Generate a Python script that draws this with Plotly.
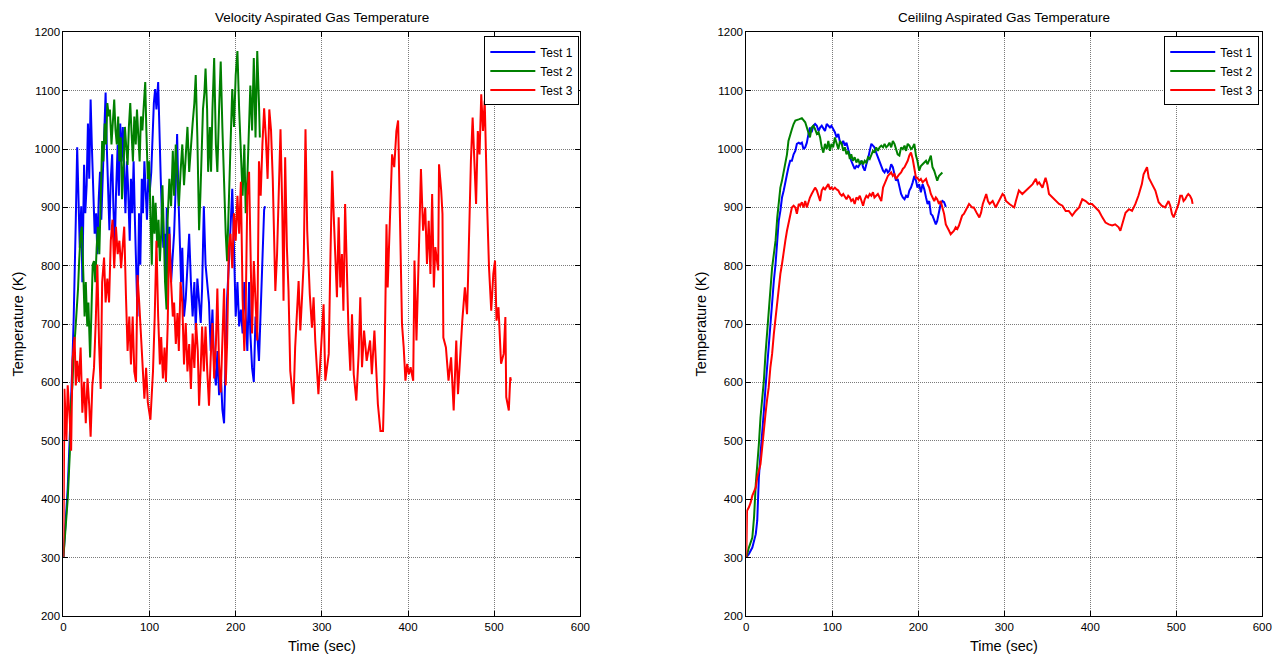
import plotly.graph_objects as go

# ---------------- Left: Velocity Aspirated Gas Temperature ----------------
vel_t1 = [0,2.4,5,7.4,9,10.5,12,13,14.4,16,17.6,19,20.7,22,24,25.4,27,28.5,30,31.6,33,35,36.3,38,39.4,41,42.5,44,45.6,47,49,50.3,52,53.4,55,56.6,58,59.7,61,63,64.4,66,67.5,69,70.6,72,73.7,75,77,78.4,80,81.5,83,84.6,86,87.8,89.3,91,92.4,94,95.6,97,99,100.2,102,103,105,106.5,108,110,111,113,114.3,116,117.4,119,120,121,123,125,127,128.5,130.4,132,133.5,135,136.6,138,140,142,144,146,148,150,152,153.6,155.5,157.5,159.4,161,163,165,167,169,171,173,175,177,178.7,180.7,182.6,184.5,186.5,188.4,190,192,194,196,198,200,202,204,206,208,210,211.6,213.5,215.5,217,219,221,223,225,227,229,231,233,234]
vel_T1 = [300,359,418,507,595,637,713,808,879,1003,902,831,902,772,973,890,938,1044,949,1085,1008,920,855,890,820,914,961,879,949,1020,1097,1008,914,861,949,991,902,831,920,1008,920,1044,979,1038,961,890,979,938,843,949,890,979,879,802,713,890,802,949,890,979,920,879,973,926,961,1008,1079,1103,1068,1115,1038,949,890,831,855,772,900,820,867,772,820,855,938,1026,920,831,772,831,713,743,808,855,772,713,772,690,778,737,702,761,902,802,772,737,654,725,625,595,654,578,619,554,530,654,743,802,867,932,831,713,772,696,725,684,772,713,654,772,684,625,601,713,684,637,731,808,896,902]

vel_t2 = [0,2.4,5,7.4,9,10.5,12,13.7,15,17,18.3,20,21.5,23,24.6,26,27.7,29,31,32.4,34,35.5,37,38.6,40,41.7,43.3,45,46.4,48,49.5,51,52.7,54,55.8,57.3,59,60.5,62,63.6,65,66.7,68,70,71.4,73,74.5,76,77.6,79,80.7,82.3,84,85.4,87,88.5,90,91.7,93,95,96.3,98,99.5,101,102.6,104,105.7,107,109,110.4,112,113.5,115,116.6,118,119.7,121,123,125,127,128.5,130.4,132,134,136,138,140,142,144,146,148,150,152,153.6,155.5,157.5,159,160.6,162,163.7,165,166.8,168,170,171.4,173,175,177,178.7,180.7,182.6,184.5,186.5,188.4,190,192,194,196,198,200,202,204,206,208,210,211.6,213.5,215.5,217,219,221,223,225,227,228]
vel_T2 = [300,347,400,477,566,595,654,684,713,761,808,855,867,772,713,772,696,737,643,713,802,808,772,831,867,820,920,1014,979,1044,1008,1079,1056,1068,1008,1056,1085,1032,1008,1056,979,1020,914,979,1038,1003,973,1038,1079,1032,979,1056,1008,1068,1020,979,1056,1032,1068,1115,1032,949,979,879,802,920,855,908,831,879,808,855,938,855,772,725,879,949,902,997,920,1008,949,902,961,1008,938,991,1038,961,1008,1044,1079,1127,1020,861,920,1008,1068,1097,1138,1068,961,1038,961,1068,1156,1008,961,1068,1150,1038,938,855,808,926,1008,1103,1038,1127,1168,1068,979,920,1008,890,949,1068,1109,1032,1156,1020,1168,1079,1020]

vel_t3 = [0,0.5,1.2,3.5,5,7.4,9,10.5,13,14.4,16,18,20,22,24,26,28,30,31.6,33.6,35.5,37.5,39.4,41.4,43.3,45,47.2,49,51,53,55,57,59,61,63,65,67,68.7,70.6,72.6,74.5,76.5,78.4,80.4,82.3,84.3,86,88,90,92,94,96,98,101,104,106,108,110,112,113.5,115.5,117.4,119,121,123,125,127,128.5,130.5,132.4,134,136,138,140,142,144,146,148,150,152,154,156,157.5,159.4,161,163,165,167,169,171,173,175,177,178.7,180.7,182.6,184.5,186.5,188.4,190,192,194,196,198,200,202,204,206,208,210,211.6,213.5,215.5,217,219,221,223,225,227,229,231,233,235,237,239,241,243,244,246,248,252,254,255.5,257.4,259.4,261.3,263.3,267,269,273,275,277,279,281,283,286,288.5,290.4,292.3,296,298,302,304,308,310,312,314,316,317.5,319.5,321.4,323.3,325,327,329,331,333,335,337,340,342.7,344.6,346.6,349,352,356,358,361,363,365,368,371,372.5,375,376.4,379,381.5,384,386.5,388.5,389.6,391,393,395,397,399,401,403,406,407.5,409.8,412.5,415,417.5,420,422,424,426,428,430,431.7,435,436,438.5,440,441,444,447,450,453,456,458,460.7,463,466,468.5,469.6,471.5,473,475,477,479,481,483,485,487,489,490.5,492,494,496.6,499,501,502.7,505,508,511,513,514,517,518.7,519.5]
vel_T3 = [300,460,589,501,595,536,483,637,678,595,637,601,660,548,601,530,607,560,507,595,625,702,802,666,589,772,814,737,778,737,843,879,796,867,820,843,796,831,867,749,654,713,631,713,619,601,784,737,678,619,572,625,566,536,619,713,843,713,631,678,607,660,601,696,855,772,713,737,666,719,654,772,737,631,702,619,666,589,684,625,702,654,560,625,696,619,696,619,560,643,702,607,666,761,631,583,684,761,595,666,831,855,796,890,843,920,855,944,743,654,725,920,961,831,684,808,731,672,979,920,1008,1070,1020,949,1068,1032,949,877,757,820,1034,900,740,986,832,757,620,563,660,774,689,746,809,1034,860,751,694,746,672,580,632,734,603,649,820,963,877,797,746,883,763,820,723,906,774,683,620,717,614,569,649,746,626,689,637,672,614,689,626,563,517,517,603,871,763,889,991,969,1031,1049,946,814,700,660,603,632,614,626,603,809,672,820,966,860,900,803,877,786,923,763,832,792,974,929,889,677,660,603,643,552,672,580,660,706,763,717,774,900,980,1054,980,906,1031,991,1094,1031,1083,969,894,797,723,786,809,706,729,632,649,712,575,552,609,603]

# ---------------- Right: Ceiling Aspirated Gas Temperature ----------------
ceil_t1 = [0,3,7,11,12.7,13.5,14.6,16.5,18.5,20.4,22.3,24,26,28,30,32,34,36,37.7,39.6,41.5,43.5,45.4,47.3,49,51,53,55,57,58.8,61,62.7,64.6,66.5,68.5,70.4,72.3,74,76,78,80,82,84,85.8,87.7,89.6,91.5,93.5,95.4,97.3,99,101,103,105,107,109,111,112.7,114.6,116.5,118.5,120.4,122,124,126,128,130,132,134,135.8,137.7,139.6,141.5,143.5,145.4,147.3,149,151,153,155,157,159,160.8,162.7,164.6,166.5,168.5,170.4,172.3,174,176,178,180,182,184,185.8,187.7,189.6,191.5,193.5,195.4,197.3,199,201,203,205,207,209,210.8,212.7,214.6,216.5,218.5,220.4,222,224,226,228,230,232]
ceil_T1 = [300,306,317,340,363,397,437,477,511,551,591,626,666,706,740,774,803,843,877,894,917,929,946,957,969,980,980,991,997,1009,1011,1009,1011,1000,1003,1011,1026,1037,1029,1040,1043,1040,1031,1037,1040,1034,1031,1043,1040,1037,1040,1034,1029,1020,1026,1011,1009,1014,1006,1011,997,989,980,974,966,971,969,974,980,969,963,974,983,997,1009,1006,1003,994,986,980,971,963,960,966,960,963,974,969,957,946,949,934,923,917,914,920,917,929,934,943,954,946,934,940,926,940,931,917,906,911,889,886,877,871,877,889,906,911,909,901]

ceil_t2 = [0,3,7,9,11,12.7,14.6,16.5,18.5,20.4,22.3,24,26,28,30,32,34,36,37.7,39.6,41.5,43.5,45.4,47.3,49,51,53,55,57,61,64.6,68.5,70.4,72.3,74,76,78,80,82,84,85.8,87.7,89.6,91.5,93.5,95.4,97.3,99,101,103,105,107,109,111,112.7,114.6,116.5,118.5,120.4,122,124,126,128,130,132,134,135.8,137.7,139.6,141.5,143.5,145.4,147.3,149,151,153,155,157,159,160.8,162.7,164.6,166.5,168.5,170.4,172.3,174,176,178,180,182,184,185.8,187.7,189.6,191.5,193.5,195.4,197.3,199,201,203,205,207,209,210.8,212.7,214.6,216.5,218.5,220.4,222,224,226,228]
ceil_T2 = [300,317,334,369,426,454,494,540,569,603,649,683,717,751,797,820,843,883,911,934,946,963,980,991,1014,1026,1034,1043,1049,1051,1053,1046,1037,1026,1020,1037,1040,1034,1026,1029,1020,1003,994,1009,1000,1014,997,1009,1003,1020,1009,1000,1014,1009,997,1003,991,997,983,991,980,986,977,983,974,980,974,980,977,986,983,991,997,994,1003,997,1003,1006,1003,1009,1003,1006,1011,1003,1014,1009,1000,991,989,1003,1000,1006,997,1009,1006,1000,1003,1009,989,980,963,971,974,977,980,974,980,989,969,963,954,946,954,957,960]

ceil_t3 = [0,0.8,3,5,7,9,11,12.7,14.6,16.5,18.5,20.4,22.3,24,26,28,30,32,34,36,37.7,39.6,41.5,43.5,45.4,47.3,49,51,53,55,57,58.8,61,62.7,64.6,66.5,68.5,70.4,72.3,74,76,78,80,82,84,85.8,87.7,89.6,91.5,93.5,95.4,97.3,99,101,103,105,107,109,111,112.7,114.6,116.5,118.5,120.4,122,124,126,128,130,132,134,135.8,137.7,139.6,141.5,143.5,145.4,147.3,149,151,153,155,157,159,160.8,162.7,164.6,166.5,168.5,170.4,172.3,174,176,178,180,182,184,185.8,187.7,189.6,191.5,193.5,195.4,197.3,199,201,203,205,207,209,210.8,212.7,214.6,216.5,218.5,220.4,222,224,226,228,230,232,234,235.8,237.7,239.6,241.5,243.5,245.4,247.3,249,251,253,255,257,259,260.8,262.7,264.6,266.5,268.5,271,273,275,279,281,283,286.5,290,292,296,298,300,302,306,309.6,311.6,313.5,317,321,325,329,333,336.7,338.6,340.5,344.4,348,350,352,356,360,363.7,367.6,371.4,375,379,383,387,390.7,394.6,398.5,402,406,410,414,417.7,421.6,425.5,429,433,435,437,441,445,448.6,452.5,456,460,462,464,466,468,470,471.8,475.7,477.6,479.5,483,487,491,493,495,497,499,501,502.7,504.6,506.6,508.5,510.4,512.4,514,516,518,519]
ceil_T3 = [300,380,386,394,406,414,420,437,449,460,489,523,546,569,591,626,649,683,711,740,763,786,803,820,843,860,871,889,900,903,900,889,906,903,909,900,911,900,911,917,923,929,934,929,920,911,929,934,931,937,940,931,934,931,934,931,929,923,920,923,917,914,920,917,911,914,906,917,914,920,911,903,914,920,917,923,920,926,917,920,923,917,911,934,940,946,954,957,960,954,957,949,954,957,960,966,969,974,980,989,994,983,969,951,951,946,949,943,946,949,940,934,923,917,911,917,914,906,911,900,889,871,866,860,854,857,860,866,863,869,877,886,889,894,900,906,903,900,900,894,889,883,891,906,923,911,906,911,900,906,917,923,920,911,906,903,900,911,929,923,929,934,940,949,940,943,934,951,940,923,917,911,906,903,894,894,886,894,900,914,911,906,906,900,894,883,874,871,869,871,866,860,871,891,897,894,906,920,940,957,963,969,951,946,940,929,917,909,903,900,911,903,889,883,891,900,906,920,920,911,914,920,923,920,914,906]

series_names = ["Test 1", "Test 2", "Test 3"]
series_colors = ["#0000FF", "#008000", "#FF0000"]

fig = go.Figure()
left = [(vel_t1, vel_T1), (vel_t2, vel_T2), (vel_t3, vel_T3)]
right = [(ceil_t1, ceil_T1), (ceil_t2, ceil_T2), (ceil_t3, ceil_T3)]
for (t, T), name, col in zip(left, series_names, series_colors):
    fig.add_trace(go.Scatter(x=t, y=T, mode="lines", name=name, line=dict(color=col, width=2),
                             xaxis="x", yaxis="y", legend="legend"))
for (t, T), name, col in zip(right, series_names, series_colors):
    fig.add_trace(go.Scatter(x=t, y=T, mode="lines", name=name, line=dict(color=col, width=2),
                             xaxis="x2", yaxis="y2", legend="legend2"))

W, H = 1285, 655


def px(x):
    # target pixel column -> paper fraction (compensates observed rendering scale)
    return (x - 2.6) / 0.99 / W


def py(y):
    # target pixel row -> paper fraction
    return 1 - (y - 5.6) / 0.981 / H


L1, R1, L2, R2 = 63, 580, 746, 1262
TOP, BOT = 32, 615

axis_common = dict(showline=True, linecolor="black", linewidth=1, mirror="allticks",
                   ticks="inside", ticklen=5, tickcolor="black", showgrid=True,
                   gridcolor="#7a7a7a", griddash="1px,1px", gridwidth=1, zeroline=False,
                   tickfont=dict(family="Liberation Sans, Arial", size=11.5, color="black"))
xticks = dict(range=[0, 600], tickvals=[0, 100, 200, 300, 400, 500, 600])
yticks = dict(range=[200, 1200], tickvals=list(range(200, 1201, 100)))

legend_common = dict(bgcolor="white", bordercolor="black", borderwidth=1,
                     font=dict(family="Liberation Sans, Arial", size=12, color="black"),
                     xanchor="right", yanchor="top", tracegroupgap=0, itemwidth=45)

fig.update_layout(
    width=W, height=H, margin=dict(l=0, r=0, t=0, b=0),
    paper_bgcolor="white", plot_bgcolor="white",
    xaxis=dict(domain=[px(L1), px(R1)], anchor="y", **xticks, **axis_common),
    yaxis=dict(domain=[py(BOT), py(TOP)], anchor="x", **yticks, **axis_common),
    xaxis2=dict(domain=[px(L2), px(R2)], anchor="y2", **xticks, **axis_common),
    yaxis2=dict(domain=[py(BOT), py(TOP)], anchor="x2", **yticks, **axis_common),
    legend=dict(x=px(579), y=py(36), **legend_common),
    legend2=dict(x=px(1259), y=py(36), **legend_common),
)

font_t = dict(family="Liberation Sans, Arial", size=13.5, color="black")
font_a = dict(family="Liberation Sans, Arial", size=14.5, color="black")
ann = [
    dict(text="Velocity Aspirated Gas Temperature", x=px((L1 + R1) / 2), y=py(17), font=font_t),
    dict(text="Ceililng Aspirated Gas Temperature", x=px((L2 + R2) / 2), y=py(17), font=font_t),
    dict(text="Time (sec)", x=px((L1 + R1) / 2), y=py(645), font=font_a),
    dict(text="Time (sec)", x=px((L2 + R2) / 2), y=py(645), font=font_a),
    dict(text="Temperature (K)", x=px(18), y=py((TOP + BOT) / 2), font=font_a, textangle=-90),
    dict(text="Temperature (K)", x=px(701), y=py((TOP + BOT) / 2), font=font_a, textangle=-90),
]
for a in ann:
    fig.add_annotation(xref="paper", yref="paper", showarrow=False, xanchor="center", yanchor="middle", **a)

fig.write_html("out.html")
